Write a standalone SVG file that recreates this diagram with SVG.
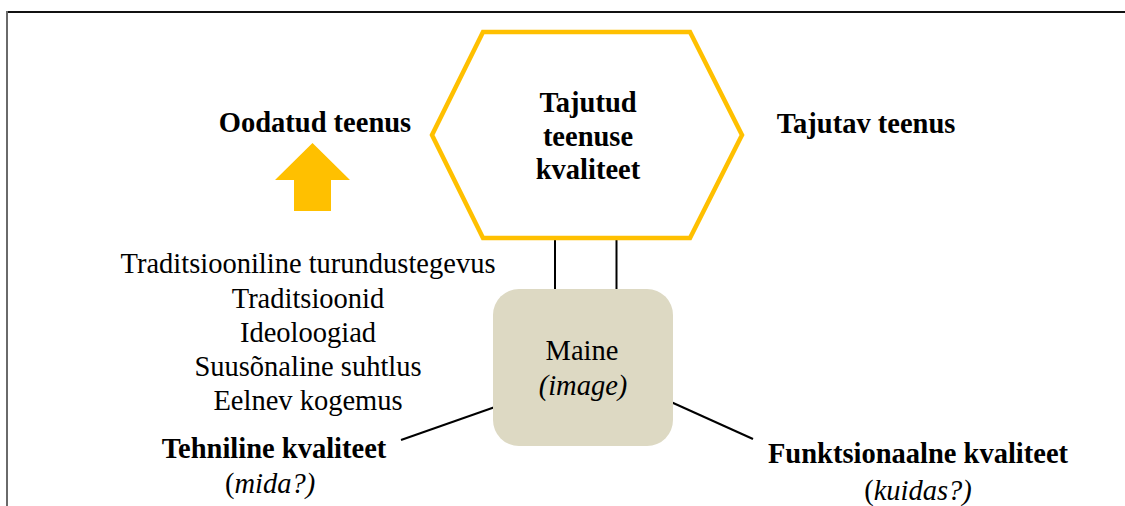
<svg xmlns="http://www.w3.org/2000/svg" width="1125" height="506" viewBox="0 0 1125 506">
<style>
text{font-family:"Liberation Serif","Times New Roman",serif;font-size:28.5px;fill:#000;text-anchor:middle}
.b{font-weight:bold}
.i{font-style:italic}
.conn line{stroke:#000;stroke-width:2}
</style>
<rect width="1125" height="506" fill="#fff"/>
<g id="frame">
<line x1="7" y1="12" x2="1125" y2="12" stroke="#111" stroke-width="2"/>
<line x1="7" y1="11" x2="7" y2="506" stroke="#6a6a6a" stroke-width="2"/>
</g>
<g class="conn" id="connectors">
<line x1="555" y1="238" x2="555" y2="289"/>
<line x1="616.5" y1="238" x2="616.5" y2="289"/>
<line x1="495" y1="407" x2="401" y2="440"/>
<line x1="671" y1="402" x2="753" y2="439"/>
</g>
<g id="hexagon">
<polygon points="483,32 690,32 742,135 690,238 483,238 432,135" fill="#fff" stroke="#FFC000" stroke-width="4.5"/>
<text class="b" x="588" y="112">Tajutud</text>
<text class="b" x="588" y="146">teenuse</text>
<text class="b" x="588" y="179">kvaliteet</text>
</g>
<g id="expected">
<text class="b" x="315" y="132">Oodatud teenus</text>
</g>
<g id="arrow">
<polygon points="312.5,143 350,180 331,180 331,211 294,211 294,180 275,180" fill="#FFC000"/>
</g>
<g id="perceived">
<text class="b" x="866" y="133">Tajutav teenus</text>
</g>
<g id="factors">
<text x="308" y="273">Traditsiooniline turundustegevus</text>
<text x="308" y="307.5">Traditsioonid</text>
<text x="308" y="341.5">Ideoloogiad</text>
<text x="308" y="376">Suusõnaline suhtlus</text>
<text x="308" y="410">Eelnev kogemus</text>
</g>
<g id="maine">
<rect x="493" y="289" width="180" height="157" rx="26" ry="26" fill="#DDD9C3"/>
<text x="582" y="360">Maine</text>
<text class="i" x="583" y="395">(image)</text>
</g>
<g id="technical">
<text class="b" x="274" y="458">Tehniline kvaliteet</text>
<text x="270" y="493">(<tspan class="i">mida?)</tspan></text>
</g>
<g id="functional">
<text class="b" x="918" y="463">Funktsionaalne kvaliteet</text>
<text x="918" y="500">(<tspan class="i">kuidas?)</tspan></text>
</g>
</svg>
